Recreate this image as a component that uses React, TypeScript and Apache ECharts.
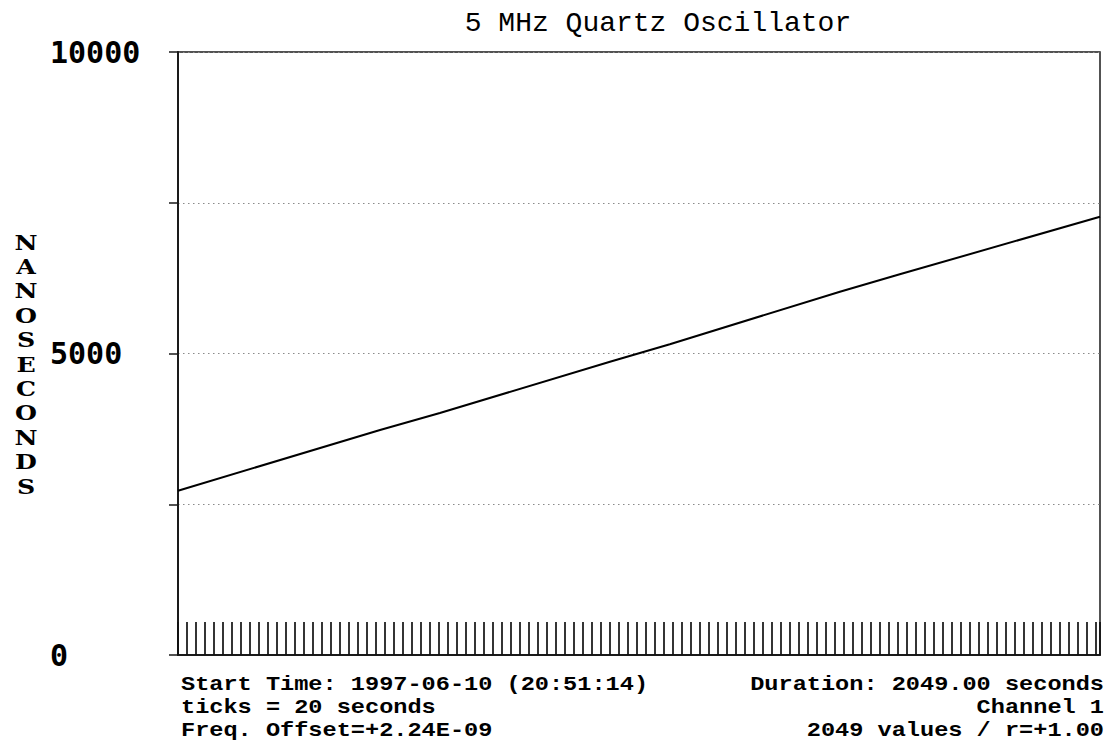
import React, { useEffect, useRef } from "react";
import * as echarts from "echarts";

const titleText = "5 MHz Quartz Oscillator";
const yAxisName = "NANOSECONDS";
const seconds = [0, 449, 582, 960, 1093, 1471, 1604, 2049];
const nanoseconds = [2725, 3731, 4013, 4864, 5153, 6025, 6313, 7269];
const yLabelValues = [0, 5000, 10000];
const leftInfo = ["Start Time: 1997-06-10 (20:51:14)", "ticks = 20 seconds", "Freq. Offset=+2.24E-09"];
const rightInfo = ["Duration: 2049.00 seconds", "Channel 1", "2049 values / r=+1.00"];

export default function App() {
  const ref = useRef<HTMLDivElement>(null);
  useEffect(() => {
    if (!ref.current) return;
    const chart = echarts.init(ref.current, null, { renderer: "svg" });
    const mono = "'Liberation Mono', 'DejaVu Sans Mono', monospace";
    const lineYs = [685, 708, 731];
    const infoText = (lines: string[], x: number, align: string) =>
      lines.map((t, i) => ({
        type: "text",
        x,
        y: lineYs[i],
        scaleX: 1.18,
        style: {
          text: t,
          fontFamily: mono,
          fontWeight: "bold",
          fontSize: 20,
          lineHeight: 20,
          fill: "#000",
          align,
          verticalAlign: "middle",
        },
      }));
    const letters = yAxisName.split("").map((ch, i) => ({
      type: "text",
      x: 26,
      y: 242 + i * 24.4,
      scaleX: 1.2,
      style: {
        text: ch,
        fontFamily: "'DejaVu Serif', serif",
        fontWeight: "bold",
        fontSize: 21,
        lineHeight: 21,
        fill: "#000",
        align: "center",
        verticalAlign: "middle",
      },
    }));
    chart.setOption({
      animation: false,
      backgroundColor: "#ffffff",
      grid: {
        left: 178,
        top: 52,
        width: 922,
        height: 603,
        show: true,
        borderColor: "#1a1a1a",
        borderWidth: 1.5,
        backgroundColor: "transparent",
      },
      xAxis: {
        type: "value",
        min: 0,
        max: 2049,
        interval: 20,
        axisLine: { show: true, lineStyle: { color: "#1a1a1a", width: 2 } },
        axisTick: { show: true, inside: true, length: 33, lineStyle: { color: "#111", width: 1.7 } },
        axisLabel: { show: false },
        splitLine: { show: false },
      },
      yAxis: {
        type: "value",
        min: 0,
        max: 10000,
        interval: 2500,
        axisLine: { show: true, lineStyle: { color: "#1a1a1a", width: 2 } },
        axisTick: { show: true, inside: false, length: 9, lineStyle: { color: "#1a1a1a", width: 1.5 } },
        axisLabel: {
          show: true,
          align: "left",
          margin: 128,
          fontFamily: "'DejaVu Sans Mono', monospace",
          fontWeight: "bold",
          fontSize: 30,
          color: "#000",
          formatter: (v: number) => (yLabelValues.indexOf(v) >= 0 ? String(v) : ""),
        },
        splitLine: {
          show: true,
          lineStyle: { color: "#8a8a8a", width: 1.2, type: [1.5, 3.5] },
        },
      },
      series: [
        {
          type: "line",
          data: seconds.map((s, i) => [s, nanoseconds[i]]),
          showSymbol: false,
          symbol: "none",
          lineStyle: { color: "#000", width: 2 },
        },
      ],
      graphic: [
        {
          type: "text",
          x: 658,
          y: 23,
          style: {
            text: titleText,
            fontFamily: mono,
            fontSize: 28,
            fill: "#000",
            align: "center",
            verticalAlign: "middle",
          },
        },
        ...letters,
        ...infoText(leftInfo, 181, "left"),
        ...infoText(rightInfo, 1104, "right"),
      ],
    });
    return () => chart.dispose();
  }, []);
  return (
    <div
      ref={ref}
      style={{ position: "fixed", left: 0, top: 0, width: 1109, height: 745, background: "#fff" }}
    />
  );
}
